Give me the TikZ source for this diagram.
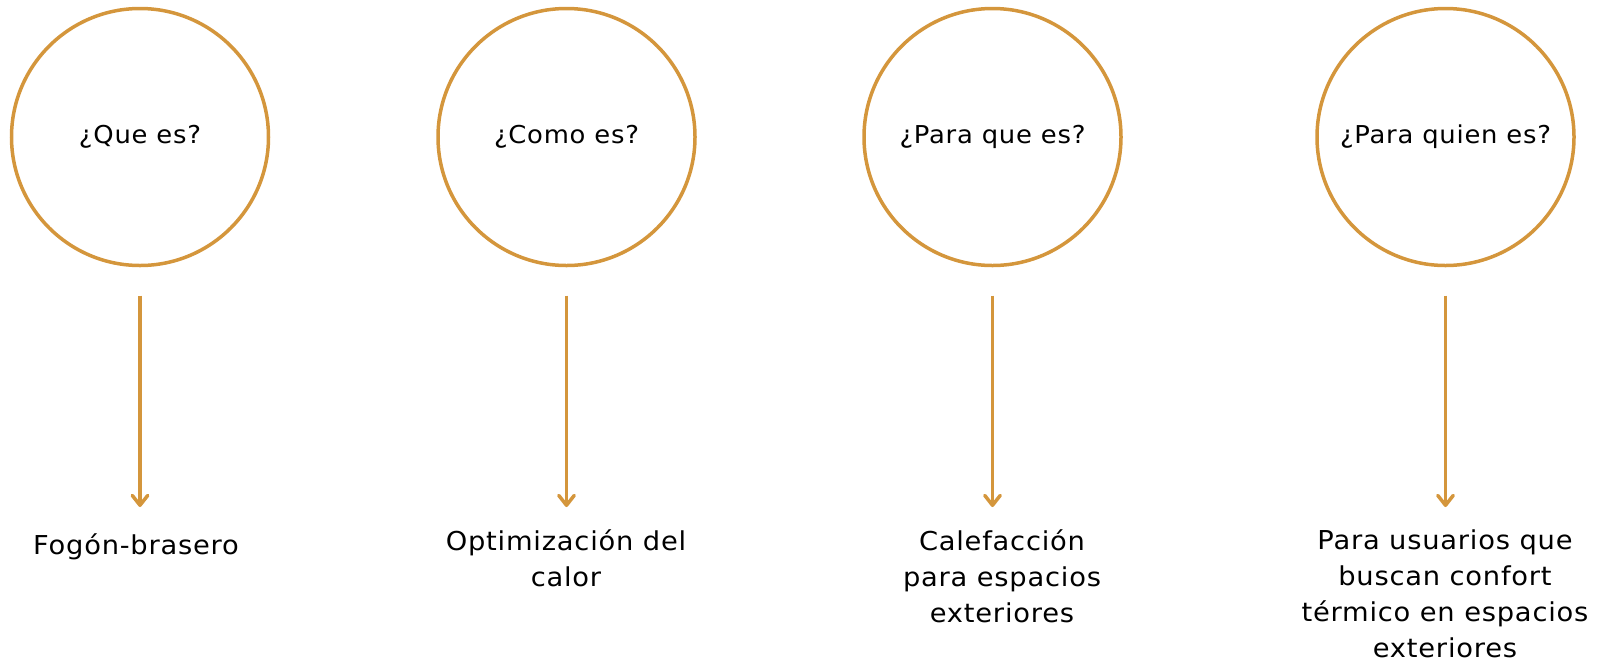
\documentclass[tikz,border=0pt]{standalone}
\usepackage{fontspec}
\setmainfont{DejaVu Sans}[LetterSpace=3,FakeStretch=1.05]
\usetikzlibrary{arrows.meta}
\definecolor{ocre}{RGB}{212,150,60}
\newcommand*{\px}{0.025cm}
\newcommand*{\bub}{257*\px}
\tikzset{
	ask/.style={
		circle,
		minimum size=\bub,
		draw=ocre,
		line width=3.5*\px,
		inner sep=0pt,
		outer sep=0pt,
		font=\fontsize{17.5}{21}\selectfont
	},
	answer/.style={
		anchor=north,
		align=center,
		inner sep=0pt,
		font=\fontsize{18.5}{25.6}\selectfont,
		execute at begin node=\strut
	},
	link/.style={
		draw=ocre,
		line width=3.5*\px,
		-{Straight Barb[length=7pt,width=11pt,line cap=round,line join=round]},
		shorten <=30*\px,
		shorten >=22*\px
	}
}

\begin{document}
\begin{tikzpicture}[x=\px,y=-\px]
	\useasboundingbox (0,0) rectangle (1599,667);
	\foreach \i/\cx/\lx/\q/\a in {%
		1/140/136/{¿Que es?}/{Fogón-brasero},%
		2/566.5/566/{¿Como es?}/{Optimización del\\calor},%
		3/992.5/1002/{¿Para que es?}/{Calefacción\\para espacios\\exteriores},%
		4/1445.5/1445/{¿Para quien es?}/{Para usuarios que\\buscan confort\\térmico en espacios\\exteriores}%
	} {
		\node (q\i) [ask] at (\cx,137) {\q};
		\node (r\i) [answer] at (\lx,529) {\a};
		\draw [link] (q\i.south) -- (q\i.south |- r\i.north);
	};
\end{tikzpicture}
\end{document}
